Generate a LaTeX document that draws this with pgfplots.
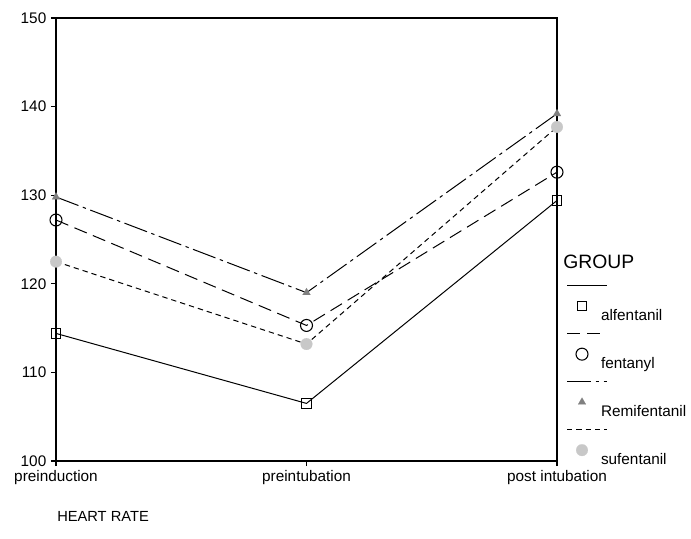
\documentclass[border=0pt]{standalone}
\usepackage{pgfplots}
\pgfplotsset{compat=1.18}
\usepackage{fontspec}
\setmainfont{Liberation Sans}
\definecolor{markgray}{RGB}{128,128,128}
\definecolor{lightmark}{RGB}{200,200,200}
\begin{document}
\begin{tikzpicture}
\path[use as bounding box] (-42pt,-57.75pt) rectangle (476.25pt,345.75pt);
\begin{axis}[
  scale only axis,
  width=375.75pt, height=332.25pt,
  xmin=0, xmax=2, ymin=100, ymax=150,
  xtick={0,1,2},
  xticklabels={preinduction, preintubation, post intubation},
  ytick={100,110,...,150},
  tick align=outside,
  xtick pos=bottom, ytick pos=left,
  major tick length=3.75pt,
  tick style={black, line width=0.8pt},
  axis line style={line width=0.9pt},
  /pgf/number format/assume math mode=true,
  tick label style={font=\fontsize{11.5}{13}\selectfont},
  clip=false,
  legend cell align=left,
  legend style={at={(rel axis cs:1,0.339)}, anchor=north west, xshift=7.5pt,
    draw=none, fill=none, inner sep=0pt, outer sep=0pt,
    row sep=27pt, column sep=25.5pt,
    nodes={inner sep=0pt, text height=7pt, text depth=2pt, anchor=base west},
    font=\fontsize{11.5}{13}\selectfont},
  legend image code/.code={
    \draw[overlay, mark=none] (0pt,26pt) -- (30pt,26pt);
    \draw[overlay] plot[only marks] coordinates {(11.25pt,10.5pt)};
  },
]
\addplot[black, line width=0.75pt, mark=square, mark size=3.6pt, mark options={solid, line width=0.75pt}]
  coordinates {(0,114.4) (1,106.5) (2,129.4)};
\addlegendentry{alfentanil}
\addplot[black, line width=0.75pt, dash pattern=on 10pt off 5pt, mark=o, mark size=4.5pt, mark options={solid, line width=0.8pt}]
  coordinates {(0,127.2) (1,115.3) (2,132.6)};
\addlegendentry{fentanyl}
\addplot[black, line width=0.75pt, dash pattern=on 18pt off 3.5pt on 2.5pt off 3.5pt, mark=triangle*, mark size=3.4pt, mark options={solid, draw=markgray, fill=markgray, line width=0.1pt}]
  coordinates {(0,129.8) (1,119.0) (2,139.2)};
\addlegendentry{Remifentanil}
\addplot[black, line width=0.75pt, dash pattern=on 4pt off 3pt, mark=*, mark size=4.4pt, mark options={solid, draw=lightmark, fill=lightmark, line width=0.1pt}]
  coordinates {(0,122.5) (1,113.2) (2,137.7)};
\addlegendentry{sufentanil}
\node[anchor=west, inner sep=0pt, font=\fontsize{14.5}{16}\selectfont] at (rel axis cs:1,0.449) [xshift=4.5pt] {GROUP};
\node[anchor=west, inner sep=0pt, font=\fontsize{11}{13}\selectfont] at (rel axis cs:0,0) [xshift=0.75pt, yshift=-41.25pt] {HEART RATE};
\end{axis}
\end{tikzpicture}
\end{document}
